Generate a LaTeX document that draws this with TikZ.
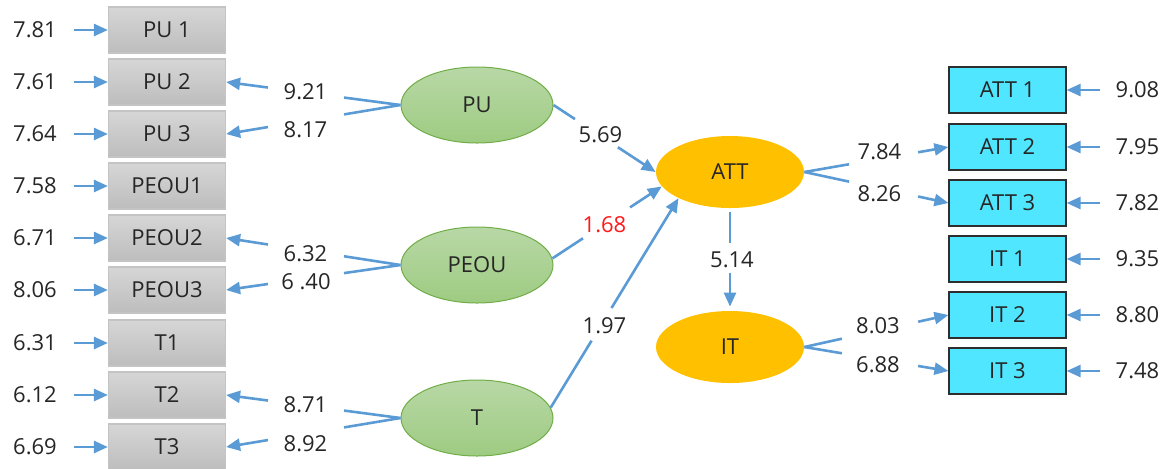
\documentclass[tikz,border=0pt]{standalone}
\usepackage{fontspec}
\setmainfont{Open Sans}
\usetikzlibrary{arrows.meta,shapes.geometric,calc}
\definecolor{conn}{HTML}{5B9BD5}
\definecolor{txt}{HTML}{262626}
\definecolor{graytop}{HTML}{D6D6D6}
\definecolor{graybot}{HTML}{BDBDBD}
\definecolor{grayline}{HTML}{C4C4C4}
\definecolor{greentop}{HTML}{B8D8A6}
\definecolor{greenbot}{HTML}{9ECB82}
\definecolor{greenline}{HTML}{70AD47}
\definecolor{orangefill}{HTML}{FFC000}
\definecolor{cyanfill}{HTML}{50E6FF}
\definecolor{cyanline}{HTML}{2E2E2E}
\definecolor{redtxt}{HTML}{FF1A1A}
\begin{document}
\begin{tikzpicture}[x=0.5pt,y=-0.5pt,
  font=\fontsize{11}{13}\selectfont, text=txt,
  graybox/.style={rectangle, draw=grayline, line width=0.6pt, top color=graytop, bottom color=graybot, minimum width=58.5pt, minimum height=23pt, inner sep=0pt},
  cyanbox/.style={rectangle, draw=cyanline, line width=0.6pt, fill=cyanfill, minimum width=58.5pt, minimum height=23pt, inner sep=0pt},
  greenell/.style={ellipse, draw=greenline, line width=0.5pt, top color=greentop, bottom color=greenbot, minimum width=76pt, minimum height=38pt, inner sep=0pt},
  orangeell/.style={ellipse, fill=orangefill, minimum width=74pt, minimum height=36pt, inner sep=0pt},
  val/.style={inner sep=0pt},
  conline/.style={draw=conn, line width=1.3pt},
  conarrow/.style={conline, -{Triangle[length=7pt,width=6pt]}},
]
\useasboundingbox (0,0) rectangle (1168,468);

% left indicators
\foreach \n/\y/\t/\v in {pu1/30/PU 1/7.81, pu2/82/PU 2/7.61, pu3/134/PU 3/7.64,
  peou1/186/PEOU1/7.58, peou2/238/PEOU2/6.71, peou3/290/PEOU3/8.06,
  t1/343/T1/6.31, t2/395/T2/6.12, t3/447/T3/6.69}{
  \node[graybox] (\n) at (167,\y) {\t};
  \node[val] (v\n) at (35,\y) {\v};
  \draw[conarrow, shorten <=8.5pt] (v\n) -- (\n);
}

% right indicators
\foreach \n/\y/\t/\v in {att1/90/ATT 1/9.08, att2/147/ATT 2/7.95, att3/203/ATT 3/7.82,
  it1/259/IT 1/9.35, it2/315/IT 2/8.80, it3/371/IT 3/7.48}{
  \node[cyanbox] (\n) at (1007.5,\y) {\t};
  \node[val] (v\n) at (1137.5,\y) {\v};
  \draw[conarrow, shorten <=7.5pt] (v\n) -- (\n);
}

% latent variables
\node[greenell] (PU) at (477,105) {PU};
\node[greenell] (PEOU) at (477,265) {PEOU};
\node[greenell] (T) at (477,418) {T};
\node[orangeell] (ATT) at (730,172) {ATT};
\node[orangeell] (IT) at (730,347) {IT};

% loadings, left
\foreach \a/\b in {PU/pu2, PU/pu3, PEOU/peou2, PEOU/peou3, T/t2, T/t3}{
  \draw[conline] (\a.west) -- ($(\a.west)!0.324!(\b.east)$);
  \draw[conarrow] ($(\a.west)!0.76!(\b.east)$) -- (\b.east);
}
\node[val] (l1) at (305.5,92) {9.21};
\node[val] (l2) at (305.5,130) {8.17};
\node[val] (l3) at (305.5,253.5) {6.32};
\node[val] (l4) at (306,282) {6 .40};
\node[val] (l5) at (305.5,405) {8.71};
\node[val] (l6) at (305.5,443.5) {8.92};

% loadings, right
\foreach \b in {att2, att3}{
  \draw[conline] (ATT.east) -- ($(ATT.east)!0.31!(\b.west)$);
  \draw[conarrow] ($(ATT.east)!0.79!(\b.west)$) -- (\b.west);
}
\foreach \b in {it2, it3}{
  \draw[conline] (IT.east) -- ($(IT.east)!0.26!(\b.west)$);
  \draw[conarrow] ($(IT.east)!0.79!(\b.west)$) -- (\b.west);
}
\node[val] (r1) at (879.5,151.5) {7.84};
\node[val] (r2) at (879.5,193.5) {8.26};
\node[val] (r3) at (878,325.5) {8.03};
\node[val] (r4) at (878,365) {6.88};

% structural paths
\draw[conline] (PU.east) -- ($(PU.east)!0.21!(ATT.west)$);
\draw[conarrow] ($(PU.east)!0.63!(ATT.west)$) -- (ATT.west);
\node[val] (p1) at (600.5,135) {5.69};

\draw[conline] (PEOU.5) -- ($(PEOU.5)!0.28!(ATT.192)$);
\draw[conarrow] ($(PEOU.5)!0.71!(ATT.192)$) -- (ATT.192);
\node[val, text=redtxt] (p2) at (604.5,225) {1.68};

\draw[conline] (T.8) -- ($(T.8)!0.32!(ATT.207)$);
\draw[conarrow] ($(T.8)!0.476!(ATT.207)$) -- (ATT.207);
\node[val] (p3) at (604.5,325.5) {1.97};

\draw[conline, shorten <=2pt] (ATT.south) -- ($(ATT.south)!0.337!(IT.north)$);
\draw[conarrow, shorten >=2pt] ($(ATT.south)!0.635!(IT.north)$) -- (IT.north);
\node[val] (p4) at (732,260) {5.14};
\end{tikzpicture}
\end{document}
